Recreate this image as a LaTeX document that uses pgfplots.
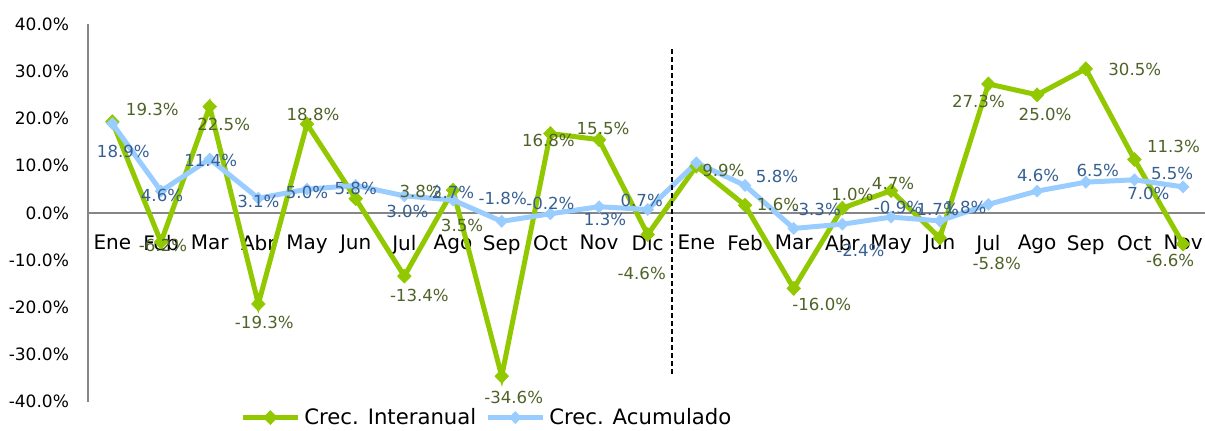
\documentclass[border=0pt]{standalone}
\usepackage{fontspec}
\setmainfont{DejaVu Sans}
\usepackage{pgfplots}
\pgfplotsset{compat=1.18}
\usepackage{pgfplotstable}
\definecolor{gline}{RGB}{146,200,0}
\definecolor{bline}{RGB}{153,204,255}
\definecolor{glab}{RGB}{79,98,40}
\definecolor{blab}{RGB}{55,96,146}
\definecolor{axgray}{RGB}{134,134,134}

% g, b: values; gl, bl: label text; gdx, gdy, bdx, bdy: label offsets in pixels
\pgfplotstableread{
x  g      gl        gdx  gdy   b     bl       bdx  bdy
0  19.3   19.3\%    40   12    18.9  18.9\%   11   -28
1  -6.2   -6.2\%    2    -3    4.6   4.6\%    1    -4
2  22.5   22.5\%    14   -18   11.4  11.4\%   1    -1
3  -19.3  -19.3\%   6    -18   3.1   3.1\%    0    -3
4  18.8   18.8\%    6    10    5.0   5.0\%    0    -3
5  3.0    3.8\%     65   7     5.8   5.8\%    0    -3
6  -13.4  -13.4\%   15   -19   3.6   3.0\%    3    -16
7  4.8    3.5\%     9    -35   2.7   2.7\%    0    8
8  -34.6  -34.6\%   12   -21   -1.8  -1.8\%   1    23
9  16.8   16.8\%    -2   -7    -0.2  -0.2\%   0    10
10 15.5   15.5\%    4    11    1.3   1.3\%    6    -13
11 -4.6   -4.6\%    -6   -39   0.7   0.7\%    -6   9
12 9.9    9.9\%     27   -4    10.6  {}       0    0
13 1.6    1.6\%     33   1     5.8   5.8\%    32   9
14 -16.0  -16.0\%   28   -16   -3.3  -3.3\%   23   19
15 1.0    1.0\%     10   14    -2.4  -2.4\%   18   -26
16 4.7    4.7\%     2    7     -0.9  -0.9\%   7    10
17 -5.3   -5.8\%    57   -26   -1.7  -1.7\%   -5   11
18 27.3   27.3\%    -10  -17   1.8   1.8\%    -23  -3
19 25.0   25.0\%    8    -20   4.6   4.6\%    1    16
20 30.5   30.5\%    49   -1    6.5   6.5\%    12   12
21 11.3   11.3\%    39   13    7.0   7.0\%    14   -14
22 -6.6   -6.6\%    -13  -16   5.5   5.5\%    -11  13
}\data

\begin{document}
\begin{tikzpicture}
\useasboundingbox (0,0) rectangle (602.5pt,215.5pt);
\begin{axis}[
  at={(44pt,14.65pt)}, anchor=south west,
  scale only axis, width=558.5pt, height=188.85pt,
  xmin=-0.5, xmax=22.45, ymin=-40, ymax=40,
  axis x line*=middle, axis y line*=left,
  axis line style={axgray, line width=0.8pt},
  xtick={0,...,22},
  xticklabels={Ene,Feb,Mar,Abr,May,Jun,Jul,Ago,Sep,Oct,Nov,Dic,Ene,Feb,Mar,Abr,May,Jun,Jul,Ago,Sep,Oct,Nov},
  ytick={-40,-30,-20,-10,0,10,20,30,40},
  yticklabels={-40.0\%,-30.0\%,-20.0\%,-10.0\%,0.0\%,10.0\%,20.0\%,30.0\%,40.0\%},
  major tick length=0pt,
  xticklabel style={font=\fontsize{10}{12}\selectfont, yshift=-7.7pt},
  yticklabel style={font=\fontsize{8.5}{10}\selectfont, xshift=-6pt},
  clip=false,
  legend columns=2,
  legend style={draw=none, fill=none, at={(0.136,-0.042)}, anchor=west,
    font=\fontsize{10.6}{12}\selectfont, inner sep=0pt,
    /tikz/every even column/.append style={column sep=2.5pt}},
  legend image code/.code={\draw[#1, mark repeat=2, mark phase=2] plot coordinates {(0pt,0pt) (13.75pt,0pt) (27.5pt,0pt)};},
]
\addplot[gline, line width=2.5pt, mark=diamond*, mark size=3.5pt,
  mark options={solid, fill=gline, draw=gline, line width=0.3pt, xscale=1.3}]
  table[x=x, y=g]{\data};
\addlegendentry{Crec. Interanual}
\addplot[bline, line width=2.5pt, mark=diamond*, mark size=3pt,
  mark options={solid, fill=bline, draw=bline, line width=0.3pt, xscale=1.3}]
  table[x=x, y=b]{\data};
\addlegendentry{Crec. Acumulado}

\addplot[forget plot, black, line width=1pt, dash pattern=on 2.5pt off 1.5pt]
  coordinates {(11.5,34.7) (11.5,-34.1)};

\addplot[forget plot, draw=none, mark=none, point meta=explicit symbolic,
  nodes near coords={\pgfplotspointmeta},
  every node near coord/.append style={anchor=center, text=glab, inner sep=0pt,
    font=\fontsize{8.3}{10}\selectfont}]
  table[x expr={\thisrow{x}+\thisrow{gdx}/48.68},
        y expr={\thisrow{g}+\thisrow{gdy}/4.72}, meta=gl]{\data};

\addplot[forget plot, draw=none, mark=none, point meta=explicit symbolic,
  nodes near coords={\pgfplotspointmeta},
  every node near coord/.append style={anchor=center, text=blab, inner sep=0pt,
    font=\fontsize{8.3}{10}\selectfont}]
  table[x expr={\thisrow{x}+\thisrow{bdx}/48.68},
        y expr={\thisrow{b}+\thisrow{bdy}/4.72}, meta=bl]{\data};
\end{axis}
\end{tikzpicture}
\end{document}
